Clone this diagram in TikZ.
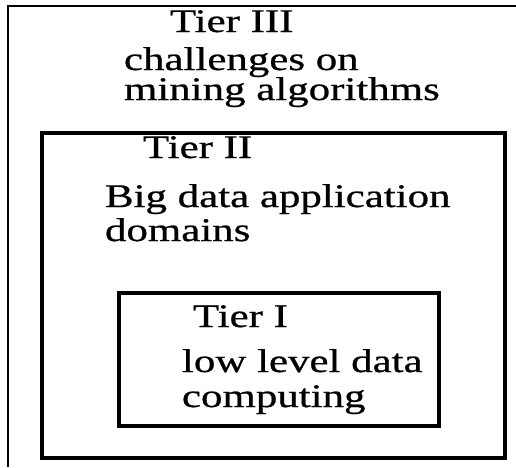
\documentclass[tikz,border=0pt]{standalone}
\usepackage{fontspec}
\usepackage{graphicx}
\setmainfont[FakeBold=0.6]{Liberation Serif}
\tikzset{
  tierbox/.style={draw=black, line width=3.5pt},
  outerline/.style={draw=black, line width=2.8pt},
  lbl/.style={anchor=base west, inner sep=0pt, outer sep=0pt, font=\fontsize{33}{33}\selectfont},
}
\newcommand{\wide}[1]{\scalebox{1.3}[1]{#1}}
\begin{document}
\begin{tikzpicture}[x=1pt,y=-1pt]
\useasboundingbox (0,0) rectangle (516,467);
\fill[white] (0,0) rectangle (516,467);
% outer tier III box (open to right and bottom)
\coordinate (o1) at (8,467);
\coordinate (o2) at (8,6);
\coordinate (o3) at (516,6);
\draw[outerline] (o1) -- (o2) -- (o3);
% tier II and tier I boxes
\node[tierbox, inner sep=0pt, minimum width=463pt, minimum height=325pt, anchor=north west] (t2) at (40,131) {};
\node[tierbox, inner sep=0pt, minimum width=320pt, minimum height=133pt, anchor=north west] (t1) at (117,291) {};
% texts
\node[lbl] (a1) at (170,32) {\wide{Tier III}};
\node[lbl] (a2) at (124,70) {\wide{challenges on}};
\node[lbl] (a3) at (124,100) {\wide{mining algorithms}};
\node[lbl] (b1) at (143,158) {\wide{Tier II}};
\node[lbl] (b2) at (105,207) {\wide{Big data application}};
\node[lbl] (b3) at (105,241) {\wide{domains}};
\node[lbl] (c1) at (193,327) {\wide{Tier I}};
\node[lbl] (c2) at (182,372) {\wide{low level data}};
\node[lbl] (c3) at (182,407) {\wide{computing}};
\end{tikzpicture}
\end{document}
